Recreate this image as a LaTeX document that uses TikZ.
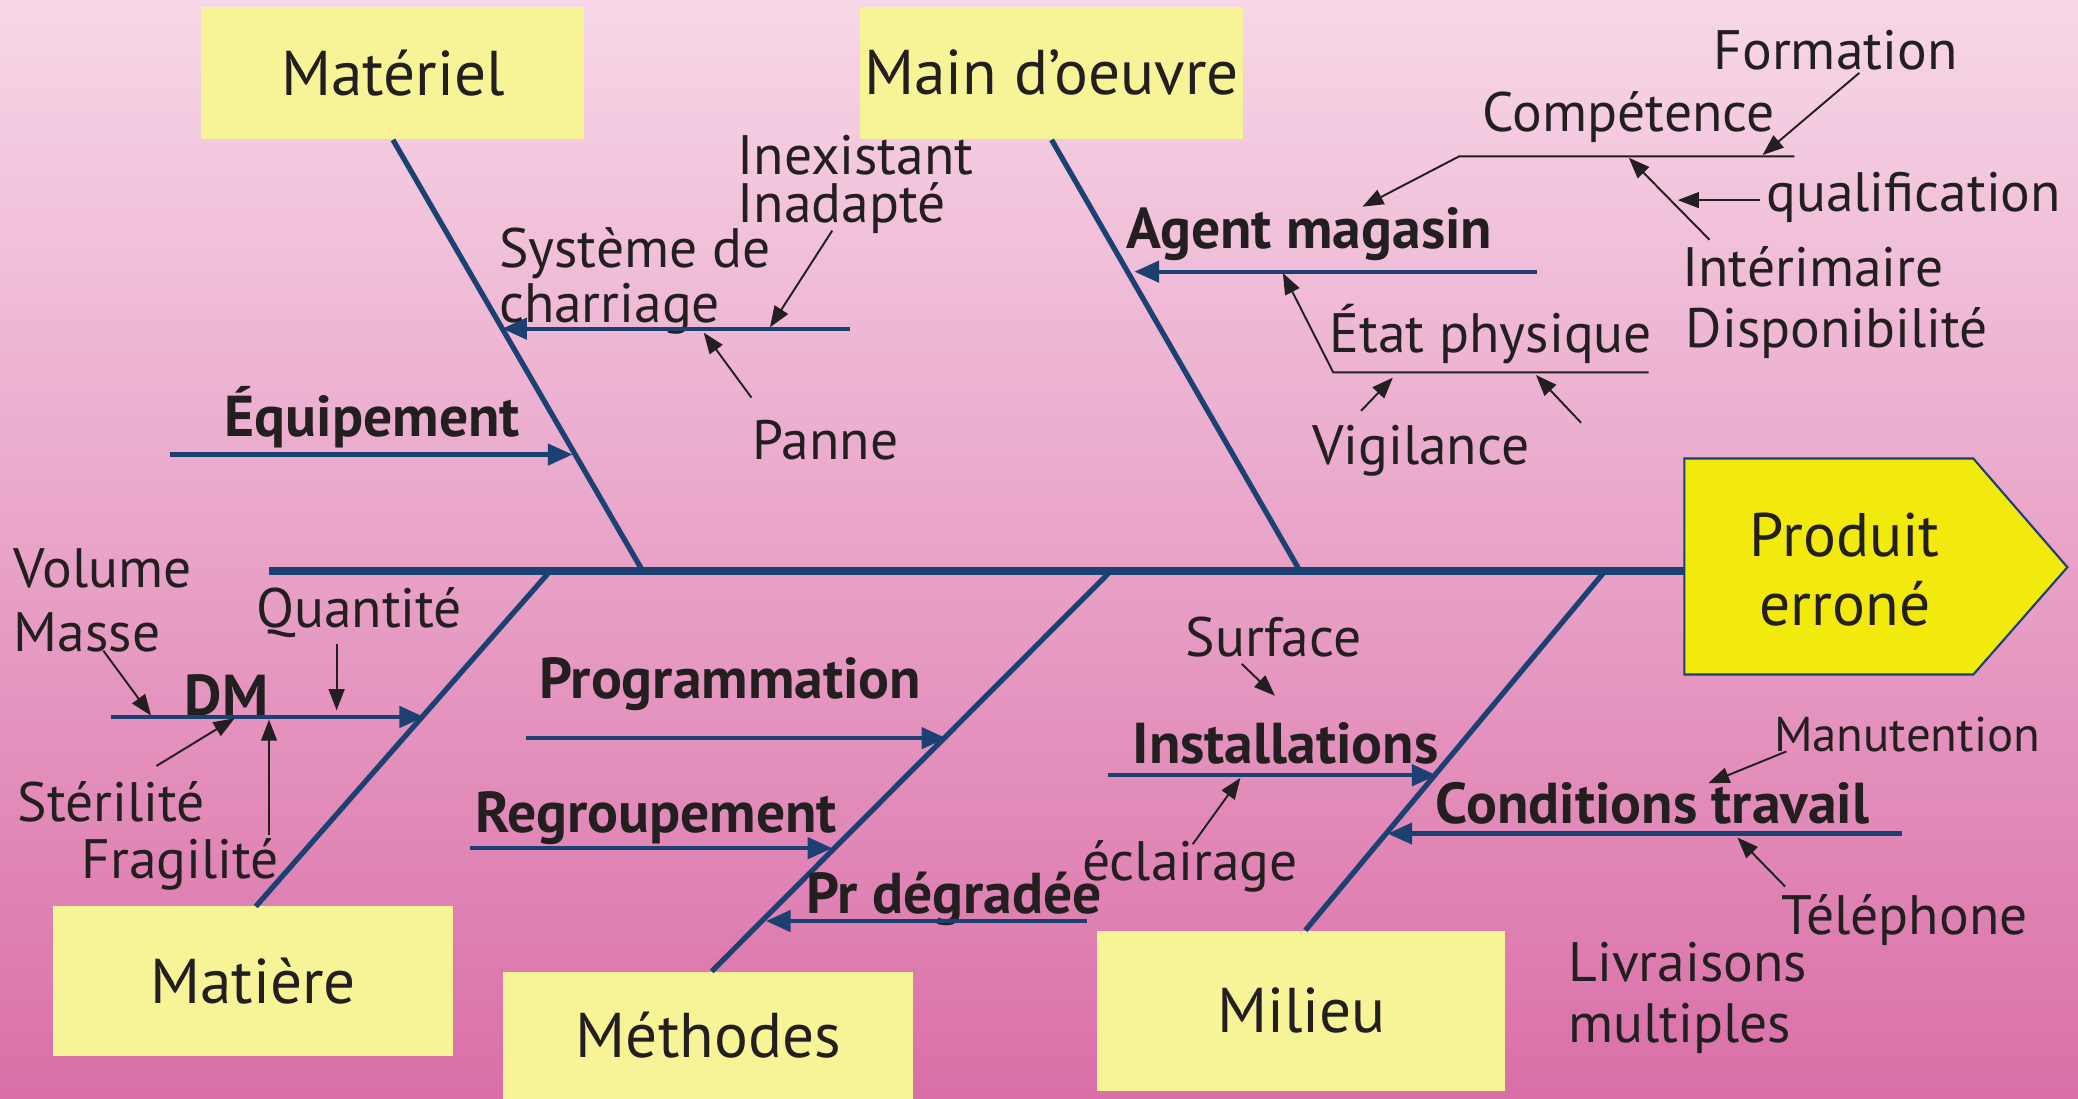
\documentclass[tikz,border=0pt]{standalone}
\usepackage{fontspec}
\setmainfont{PT Sans}
\usetikzlibrary{arrows.meta}

\definecolor{bonecol}{RGB}{27,64,114}
\definecolor{boxcol}{RGB}{247,244,151}
\definecolor{prodcol}{RGB}{242,234,12}
\definecolor{txtcol}{RGB}{35,31,32}
\definecolor{bgtop}{RGB}{247,215,231}
\definecolor{bgbot}{RGB}{218,111,168}

\tikzset{
  catbox/.style={fill=boxcol, text=txtcol, font=\fontsize{18}{20}\selectfont, inner sep=0pt},
  cause/.style={text=txtcol, font=\fontsize{15.8}{18}\selectfont, inner sep=0pt},
  maincause/.style={text=txtcol, font=\fontsize{16.4}{18}\selectfont\bfseries, inner sep=0pt},
  spine/.style={bonecol, line width=2.3pt},
  bone/.style={bonecol, line width=1.5pt},
  branch/.style={bonecol, line width=1.2pt, -{Triangle[length=7pt,width=6pt]}},
  twig/.style={txtcol, line width=0.55pt, -{Triangle[length=6pt,width=4.5pt]}},
}

\begin{document}
\begin{tikzpicture}[x=0.13253mm, y=-0.13253mm]
            % Background
            \useasboundingbox (0,0) rectangle (1568,829);
            \shade[top color=bgtop, bottom color=bgbot] (0,0) rectangle (1568,829);

            % Category boxes
            \node[catbox, minimum width=38.3mm, minimum height=13.25mm] (materiel) at (296.5,55) {Matériel};
            \node[catbox, minimum width=38.3mm, minimum height=13.25mm] (oeuvre) at (793.5,55) {Main d’oeuvre};
            \node[catbox, minimum width=40.0mm, minimum height=15.0mm] (matiere) at (191,740.5) {Matière};
            \node[catbox, minimum width=41.0mm, minimum height=12.7mm] (methodes) at (534.5,781) {Méthodes};
            \node[catbox, minimum width=40.8mm, minimum height=16.0mm] (milieu) at (982,762.5) {Milieu};

            % Effect head
            \coordinate (P_1) at (1271,346);
            \coordinate (P_2) at (1489,346);
            \coordinate (P_3) at (1560,428);
            \coordinate (P_4) at (1489,509);
            \coordinate (P_5) at (1271,509);
            \filldraw[fill=prodcol, draw=bonecol, line width=0.6pt] (P_1) -- (P_2) -- (P_3) -- (P_4) -- (P_5) -- cycle;
            \node[text=txtcol, font=\fontsize{17.5}{19.5}\selectfont, align=center, inner sep=0pt] (produit) at (1392,430) {Produit\\erroné};

            % Spine and bones
            \coordinate (S_0) at (203,431);
            \coordinate (S_5) at (1271,431);
            \coordinate (S_1) at (415,431);
            \coordinate (S_2) at (485,431);
            \coordinate (S_3) at (838,431);
            \coordinate (S_4) at (981,431);
            \coordinate (S_6) at (1211,431);
            \draw[spine] (S_0) -- (S_5);
            \draw[bone] (materiel.south) -- (S_2);
            \draw[bone] (oeuvre.south) -- (S_4);
            \draw[bone] (193,684) -- (S_1);
            \draw[bone] (537,733) -- (S_3);
            \draw[bone] (985,702) -- (S_6);

            % Main causes
            \node[maincause] (equip) at (281,315) {Équipement};
            \node[maincause] (agent) at (988,177) {Agent magasin};
            \node[maincause] (dm) at (171,525) {DM};
            \node[maincause] (progr) at (551,516) {Programmation};
            \node[maincause] (regroup) at (495,617) {Regroupement};
            \node[maincause] (prdeg) at (720,678) {Pr dégradée};
            \node[maincause] (install) at (970,561) {Installations};
            \node[maincause] (condtr) at (1247,606) {Conditions travail};
            \node[cause, align=left, anchor=west, font=\fontsize{15.8}{11.3}\selectfont] (sysch) at (376,212) {Système de\\charriage};

            % Branches onto the bones
            \coordinate (B_1) at (641,248);   \coordinate (E_1) at (379,248);
            \coordinate (B_2) at (128,343);   \coordinate (E_2) at (432,343);
            \coordinate (B_3) at (1160,205);  \coordinate (E_3) at (856,205);
            \coordinate (B_4) at (84,541);    \coordinate (E_4) at (320,541);
            \coordinate (B_5) at (397,557);   \coordinate (E_5) at (714,557);
            \coordinate (B_6) at (355,640);   \coordinate (E_6) at (628,640);
            \coordinate (B_7) at (820,695);   \coordinate (E_7) at (578,695);
            \coordinate (B_8) at (836,585);   \coordinate (E_8) at (1084,585);
            \coordinate (B_9) at (1435,629);  \coordinate (E_9) at (1047,629);
            \draw[branch] (B_1) -- (E_1);
            \draw[branch] (B_2) -- (E_2);
            \draw[branch] (B_3) -- (E_3);
            \draw[branch] (B_4) -- (E_4);
            \draw[branch] (B_5) -- (E_5);
            \draw[branch] (B_6) -- (E_6);
            \draw[branch] (B_7) -- (E_7);
            \draw[branch] (B_8) -- (E_8);
            \draw[branch] (B_9) -- (E_9);

            % Sub causes
            \node[cause, align=left, anchor=west, font=\fontsize{15.8}{13.5}\selectfont] (inexist) at (556,139) {Inexistant\\Inadapté};
            \node[cause] (panne) at (623,332) {Panne};
            \node[cause] (compet) at (1229,88) {Compétence};
            \node[cause] (format) at (1385,38) {Formation};
            \node[cause] (qualif) at (1444,149) {qualification};
            \node[cause] (interim) at (1368,201) {Intérimaire};
            \node[cause] (dispo) at (1386,251) {Disponibilité};
            \node[cause] (etat) at (1125,252) {État physique};
            \node[cause] (vigil) at (1072,340) {Vigilance};
            \node[cause, align=left, anchor=west, font=\fontsize{15.8}{18}\selectfont] (volmasse) at (10,453) {Volume\\Masse};
            \node[cause] (quant) at (271,462) {Quantité};
            \node[cause] (steril) at (84,605) {Stérilité};
            \node[cause] (fragil) at (136,652) {Fragilité};
            \node[cause] (surface) at (961,481) {Surface};
            \node[cause] (eclair) at (898,654) {éclairage};
            \node[cause, font=\fontsize{13.9}{16}\selectfont] (manut) at (1439,554) {Manutention};
            \node[cause] (telep) at (1437,694) {Téléphone};
            \node[cause, align=left, anchor=west, font=\fontsize{15.8}{17.5}\selectfont] (livr) at (1183,753) {Livraisons\\multiples};

            % Small arrows
            \coordinate (C_l) at (1101,118);  \coordinate (C_r) at (1354,118);
            \coordinate (C_t) at (1028,156);
            \draw[twig] (C_r) -- (C_l) -- (C_t);
            \coordinate (F_1) at (1006,281);  \coordinate (F_2) at (1244,281);
            \coordinate (F_t) at (968,206);
            \draw[twig] (F_2) -- (F_1) -- (F_t);
            \draw[twig] (1403,55) -- (1330,117);
            \draw[twig] (1290,181) -- (1229,119);
            \draw[twig] (1328,151) -- (1266,151);
            \draw[twig] (1027,310) -- (1051,285);
            \draw[twig] (1193,319) -- (1159,283);
            \draw[twig] (628,174) -- (581,247);
            \draw[twig] (567,300) -- (531,251);
            \draw[twig] (78,491) -- (114,540);
            \draw[twig] (254,486) -- (254,536);
            \draw[twig] (118,578) -- (177,542);
            \draw[twig] (203,630) -- (203,543);
            \draw[twig] (937,501) -- (962,525);
            \draw[twig] (900,637) -- (936,587);
            \draw[twig] (1348,567) -- (1289,591);
            \draw[twig] (1347,669) -- (1311,632);
\end{tikzpicture}
\end{document}
